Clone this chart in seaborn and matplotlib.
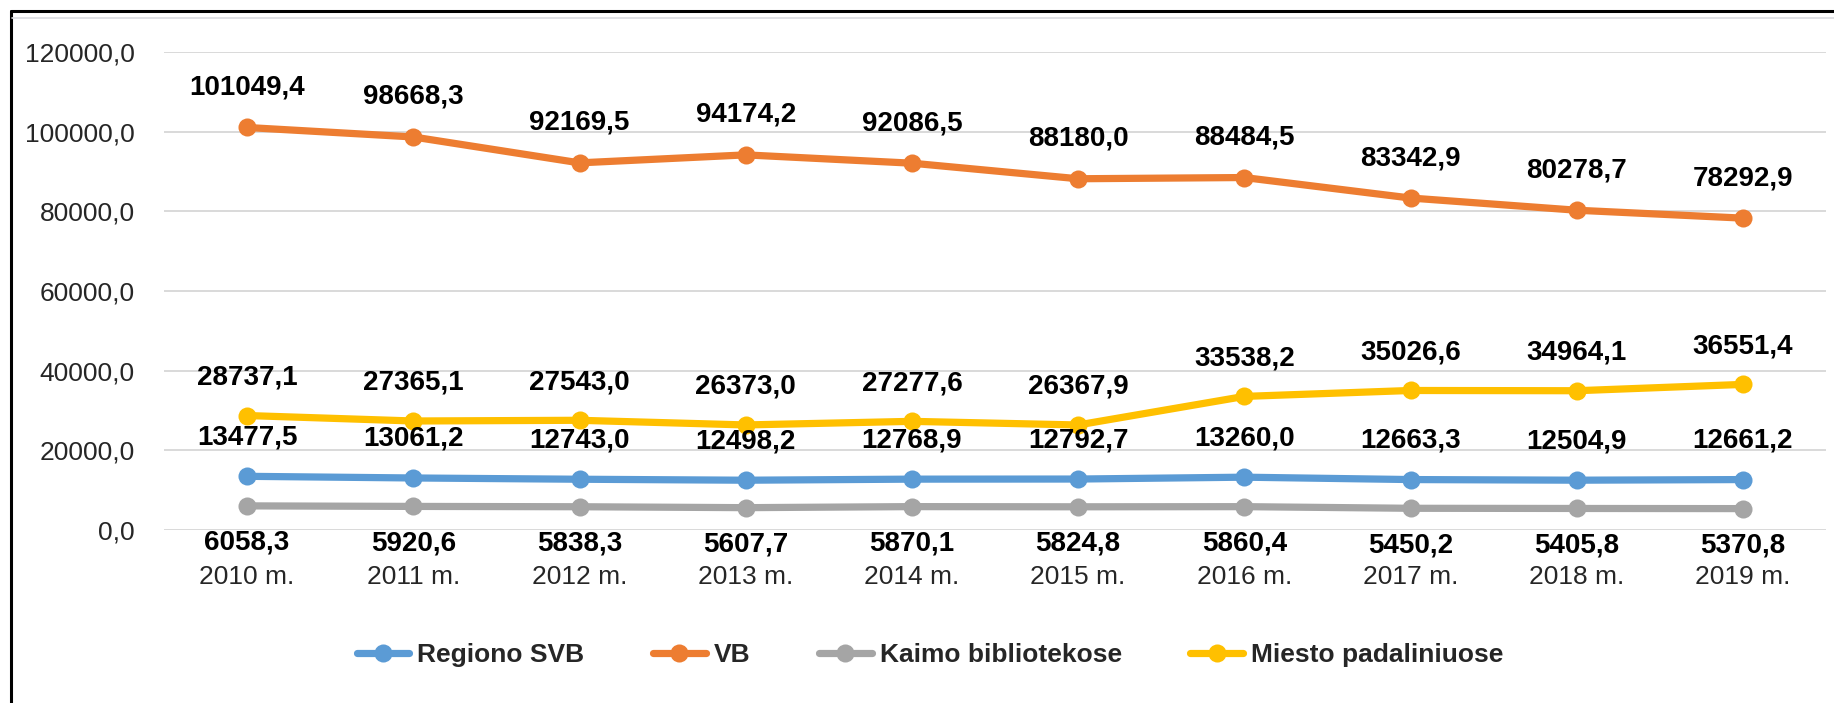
import pandas as pd
import matplotlib.pyplot as plt
import seaborn as sns
from matplotlib.lines import Line2D

# --- data ---
years = ['2010 m.', '2011 m.', '2012 m.', '2013 m.', '2014 m.',
         '2015 m.', '2016 m.', '2017 m.', '2018 m.', '2019 m.']
regiono_svb = [13477.5, 13061.2, 12743.0, 12498.2, 12768.9, 12792.7, 13260.0, 12663.3, 12504.9, 12661.2]
vb = [101049.4, 98668.3, 92169.5, 94174.2, 92086.5, 88180.0, 88484.5, 83342.9, 80278.7, 78292.9]
kaimo = [6058.3, 5920.6, 5838.3, 5607.7, 5870.1, 5824.8, 5860.4, 5450.2, 5405.8, 5370.8]
miesto = [28737.1, 27365.1, 27543.0, 26373.0, 27277.6, 26367.9, 33538.2, 35026.6, 34964.1, 36551.4]
series_names = ['Regiono SVB', 'VB', 'Kaimo bibliotekose', 'Miesto padaliniuose']
y_ticks = [0, 20000, 40000, 60000, 80000, 100000, 120000]

colors = ['#5B9BD5', '#ED7D31', '#A5A5A5', '#FFC000']
label_offsets = [39, 40, -37, 38]  # pixels, above (+) or below (-) the point

sns.set_style("white")
plt.rcParams['font.family'] = ['Liberation Sans', 'DejaVu Sans']

rows = []
for name, vals in zip(series_names, [regiono_svb, vb, kaimo, miesto]):
    for yr, v in zip(years, vals):
        rows.append({'Metai': yr, 'Reiksme': v, 'Serija': name})
df = pd.DataFrame(rows)

fig = plt.figure(figsize=(18.34, 7.03), dpi=100)
ax = fig.add_axes([164 / 1834, 1 - 530 / 703, 1662 / 1834, 478 / 703])

sns.lineplot(data=df, x='Metai', y='Reiksme', hue='Serija', hue_order=series_names,
             palette=colors, marker='o', markersize=13, markeredgewidth=0,
             linewidth=5.2, sort=False, ax=ax, legend=True)

# data labels
for name, off in zip(series_names, label_offsets):
    sub = df[df['Serija'] == name]
    for yr, v in zip(sub['Metai'], sub['Reiksme']):
        ax.annotate(f"{v:.1f}".replace('.', ','), xy=(yr, v), xytext=(0, off),
                    textcoords='offset pixels', ha='center', va='center',
                    fontsize=20, fontweight='bold', color='black')

ax.set_xlim(-0.5, len(years) - 0.5)
ax.set_ylim(0, 120000)
ax.set_yticks(y_ticks)
ax.set_yticklabels([f"{t:.1f}".replace('.', ',') for t in y_ticks])
ax.tick_params(axis='y', length=0, pad=21, labelsize=19, labelcolor='#262626')
ax.tick_params(axis='x', length=0, pad=25, labelsize=19, labelcolor='#262626')
ax.set_xlabel('')
ax.set_ylabel('')
ax.yaxis.grid(True, color='#D9D9D9', linewidth=1.4)
ax.xaxis.grid(False)
for s in ax.spines.values():
    s.set_visible(False)

# legend at the bottom
handles, labels = ax.get_legend_handles_labels()
ax.get_legend().remove()
fig.legend(handles, labels, loc='center', bbox_to_anchor=(930 / 1834, 1 - 655 / 703),
           ncol=4, frameon=False, handlelength=2.0, handletextpad=0.3,
           columnspacing=2.6, prop={'weight': 'bold', 'size': 19})

# chart frame and spreadsheet edge
fig.add_artist(Line2D([11 / 1834, 11 / 1834], [0, 1 - 11 / 703], transform=fig.transFigure,
                      color='black', linewidth=2.2))
fig.add_artist(Line2D([11 / 1834, 1], [1 - 11 / 703, 1 - 11 / 703], transform=fig.transFigure,
                      color='black', linewidth=2.2))
fig.add_artist(Line2D([12 / 1834, 1], [1 - 18 / 703, 1 - 18 / 703], transform=fig.transFigure,
                      color='#DADCE0', linewidth=1.2))

fig.savefig('out.png', dpi=100)
